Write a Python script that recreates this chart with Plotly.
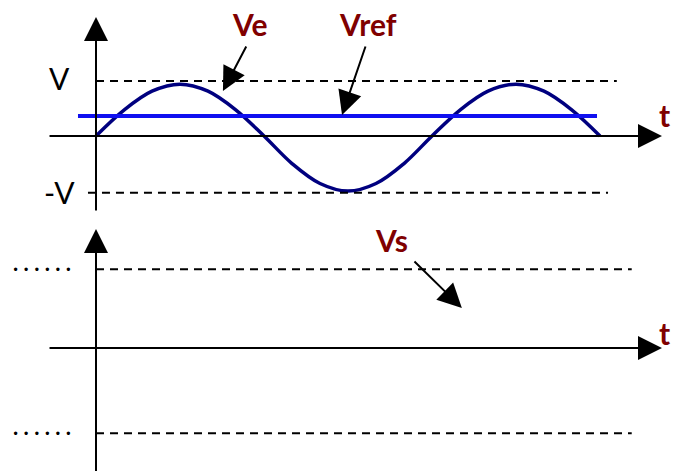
import plotly.graph_objects as go

# ---- data ----
phase_deg = [0, 30, 60, 90, 120, 150, 180, 210, 240, 270, 300, 330, 360, 390, 420, 450, 480, 510, 540]
ve_values = [0, 0.48, 0.83, 0.96, 0.83, 0.48, 0, -0.51, -0.88, -1.02, -0.88, -0.51, 0, 0.48, 0.83, 0.96, 0.83, 0.48, 0]
vref_value = 0.37
vref_span = [-19.3, 536.8]
top_levels = [1.02, -1.05]
top_level_spans = [[0, 558], [-8.6, 548.6]]
top_level_labels = ["V", "-V"]
bottom_levels = [0.96, -1.04]
bottom_level_span = [0, 574]
bottom_level_labels = [". . . . . .", ". . . . . ."]

DARKRED = "#800000"
NAVY = "#00007f"
BLUE = "#1010f0"
FONT = "Lato"

fig = go.Figure()

# sine wave Ve
fig.add_trace(go.Scatter(x=phase_deg, y=ve_values, mode="lines",
                         line=dict(color=NAVY, width=3.5, shape="spline", smoothing=1),
                         hoverinfo="skip", showlegend=False))
# Vref
fig.add_trace(go.Scatter(x=vref_span, y=[vref_value, vref_value], mode="lines",
                         line=dict(color=BLUE, width=4), hoverinfo="skip", showlegend=False))
# dashed levels, top
for lvl, span in zip(top_levels, top_level_spans):
    fig.add_trace(go.Scatter(x=span, y=[lvl, lvl], mode="lines",
                             line=dict(color="black", width=2, dash="8px,6px"),
                             hoverinfo="skip", showlegend=False))
# dashed levels, bottom
for lvl in bottom_levels:
    fig.add_trace(go.Scatter(x=bottom_level_span, y=[lvl, lvl], mode="lines", yaxis="y2",
                             line=dict(color="black", width=2, dash="8px,6px"),
                             hoverinfo="skip", showlegend=False))

ann = []
def arrow(x, y, ax, ay, yref="y", size=2.4):
    ann.append(dict(x=x, y=y, ax=ax, ay=ay, xref="x", yref=yref, axref="x", ayref=yref,
                    text="", showarrow=True, arrowhead=2, arrowsize=size, arrowwidth=2,
                    arrowcolor="black"))

# axes of top panel
arrow(606.4, 0, -51.4, 0)
arrow(0, 2.204, 0, -1.407)
# axes of bottom panel
arrow(606.4, 0, -51.4, 0, yref="y2")
arrow(0, 1.451, 0, -1.6, yref="y2")
# label pointers
arrow(136, 0.833, 161.8, 1.685)
arrow(263.6, 0.389, 289.3, 1.685)
arrow(392, 0.488, 339.6, 1.073, yref="y2")

def label(x, y, text, color=DARKRED, bold=True, size=30, yref="y", yanchor="middle", yshift=0):
    ann.append(dict(x=x, y=y, xref="x", yref=yref, text=("<b>%s</b>" % text) if bold else text,
                    showarrow=False, xanchor="center", yanchor=yanchor, yshift=yshift,
                    font=dict(family=FONT, size=size, color=color)))

label(164.5, 2.083, "Ve")
label(291.4, 2.083, "Vref")
label(609.6, 0.38, "t")
label(-38.6, 1.065, top_level_labels[0], color="black", bold=False)
label(-39.6, -1.046, top_level_labels[1], color="black", bold=False)
label(316.6, 1.323, "Vs", yref="y2")
label(609.6, 0.183, "t", yref="y2")
for lvl, txt in zip(bottom_levels, bottom_level_labels):
    label(-57.9, lvl, txt, color="black", bold=True, size=22, yref="y2", yanchor="bottom", yshift=-9)

fig.update_layout(
    width=681, height=471, autosize=False,
    margin=dict(l=0, r=0, t=0, b=0),
    paper_bgcolor="white", plot_bgcolor="white",
    xaxis=dict(range=[-102.857, 626.786], visible=False, fixedrange=True),
    yaxis=dict(range=[-6.2037, 2.5185], visible=False, fixedrange=True),
    yaxis2=dict(range=[-1.5, 4.2439], visible=False, overlaying="y", fixedrange=True),
    annotations=ann,
    showlegend=False,
)

fig.write_html("out.html", config={"displayModeBar": False},
               post_script="document.body.style.margin='0';document.body.style.overflow='hidden';")
